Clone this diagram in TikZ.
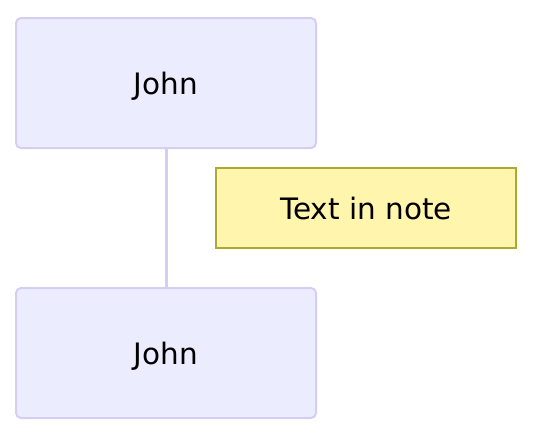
\documentclass[tikz,border=0pt]{standalone}
\usepackage{fontspec}
\setmainfont{DejaVu Sans}
\usetikzlibrary{positioning}

\definecolor{actorfill}{HTML}{ECECFF}
\definecolor{actorline}{HTML}{D6CDF2}
\definecolor{notefill}{HTML}{FFF5AD}
\definecolor{noteline}{HTML}{AAAA33}

\tikzset{
  actor/.style={draw=actorline, fill=actorfill, line width=2pt, rounded corners=5pt,
    minimum width=300pt, minimum height=130pt, inner sep=0pt, outer sep=0pt,
    text height=22pt, text depth=0pt, font=\fontsize{29.5}{35}\selectfont},
  note/.style={draw=noteline, fill=notefill, line width=1.6pt,
    minimum width=300pt, minimum height=80pt, inner sep=0pt, outer sep=0pt,
    text height=22pt, text depth=0pt, font=\fontsize{29.5}{35}\selectfont},
  lifeline/.style={draw=actorline, line width=3pt}
}

\begin{document}
\begin{tikzpicture}
\useasboundingbox (0,0) rectangle (534pt,-432pt);
\node [actor] (johntop) at (166pt,-83pt) {John};
\node [actor, below=140pt of johntop] (johnbot) {John};
\draw [lifeline] (johntop.south) -- (johnbot.north);
\node [note, below right=20pt and 50pt of johntop.south] (note) {Text in note};
\end{tikzpicture}
\end{document}
